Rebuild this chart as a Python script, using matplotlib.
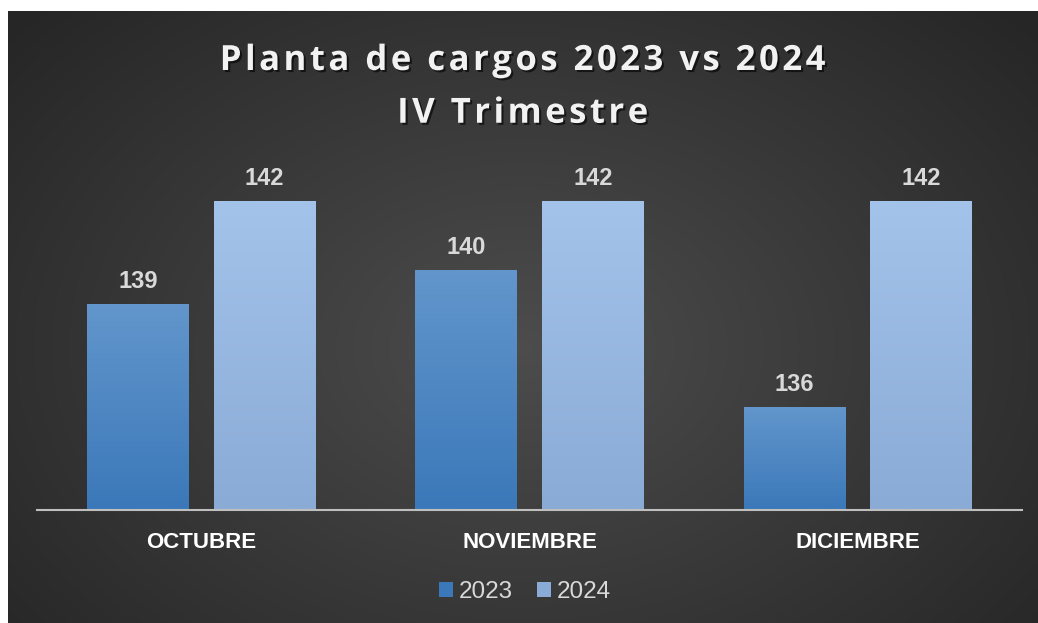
import numpy as np
import matplotlib
matplotlib.use("Agg")
import matplotlib.pyplot as plt
from matplotlib import patheffects
from matplotlib.colors import to_rgb

# data
months = ["OCTUBRE", "NOVIEMBRE", "DICIEMBRE"]
years = ["2023", "2024"]
values_2023 = [139, 140, 136]
values_2024 = [142, 142, 142]

W, H = 1038, 623
fig = plt.figure(figsize=(W / 100, H / 100), dpi=100)
fig.patch.set_facecolor("white")

# dark radial background panel
bg = fig.add_axes([8 / W, 0, 1 - 8 / W, 1 - 11 / H])
yy, xx = np.mgrid[0:1:300j, 0:1:500j]
r = np.sqrt(((xx - 0.5) / 0.75) ** 2 + ((yy - 0.55) / 0.9) ** 2)
shade = np.clip(0.30 - 0.17 * r, 0.15, 0.30)
bg.imshow(np.dstack([shade] * 3), aspect="auto", extent=[0, 1, 0, 1], interpolation="bilinear")
bg.set_axis_off()

ax = fig.add_axes([37 / W, (H - 510) / H, 985 / W, 350 / H])
ax.patch.set_alpha(0)
x = np.arange(len(months))
w = 0.31
off = 0.193
base = 133
ylim = (base, base + 350 / 34.3)


def gradient_bars(xs, vals, top_col, bot_col, label):
    bars = ax.bar(xs, np.array(vals) - base, w, bottom=base, color=bot_col, label=label)
    t, b = np.array(to_rgb(top_col)), np.array(to_rgb(bot_col))
    for rect, v in zip(bars, vals):
        frac = np.linspace(0, 1, 100)[:, None]
        img = (t * (1 - frac) + b * frac)[:, None, :]
        img = np.repeat(img, 2, axis=1)
        im = ax.imshow(img, aspect="auto", interpolation="bilinear",
                       extent=[rect.get_x(), rect.get_x() + rect.get_width(), base, v], zorder=2)
        im.set_clip_path(rect)
    return bars


b1 = gradient_bars(x - off, values_2023, "#6296cc", "#3b78b9", years[0])
b2 = gradient_bars(x + off, values_2024, "#a3c3ea", "#8aabd6", years[1])
ax.set_ylim(*ylim)
ax.set_xlim(-0.5, 2.5)

for bars, vals in ((b1, values_2023), (b2, values_2024)):
    for rect, v in zip(bars, vals):
        ax.annotate(str(v), (rect.get_x() + rect.get_width() / 2, v), xytext=(0, 8),
                    textcoords="offset points", ha="center", va="bottom",
                    fontsize=17, fontweight="bold", color="#d9d9d9", family="Liberation Sans")

for s in ("top", "right", "left"):
    ax.spines[s].set_visible(False)
ax.spines["bottom"].set_color("#bfbfbf")
ax.spines["bottom"].set_linewidth(1.5)
ax.spines["bottom"].set_zorder(3)
ax.set_yticks([])
ax.set_xticks(x)
ax.set_xticklabels(months, fontsize=16, fontweight="bold", color="white", family="Liberation Sans")
ax.tick_params(axis="x", length=0, pad=16)

sp = "\u200a"
title = "\n".join(sp.join(line) for line in ["Planta de cargos 2023 vs 2024", "IV Trimestre"])
fig.text(0.5 + 4 / W, 1 - 43 / H, title, ha="center", va="top",
         fontsize=25, fontweight="bold", color="#f2f2f2", family=["Open Sans", "DejaVu Sans"],
         linespacing=1.62,
         path_effects=[patheffects.withSimplePatchShadow(offset=(1.5, -1.5), shadow_rgbFace="black", alpha=0.6)])

leg = fig.legend(loc="center", bbox_to_anchor=(0.5 + 6 / W, 1 - 592 / H), ncol=2, frameon=False,
                 prop={"family": "Liberation Sans", "size": 17.5}, handlelength=0.55, handleheight=0.55,
                 handletextpad=0.25, columnspacing=1.0)
for t in leg.get_texts():
    t.set_color("#d9d9d9")

fig.savefig("out.png", dpi=100, facecolor="white")
